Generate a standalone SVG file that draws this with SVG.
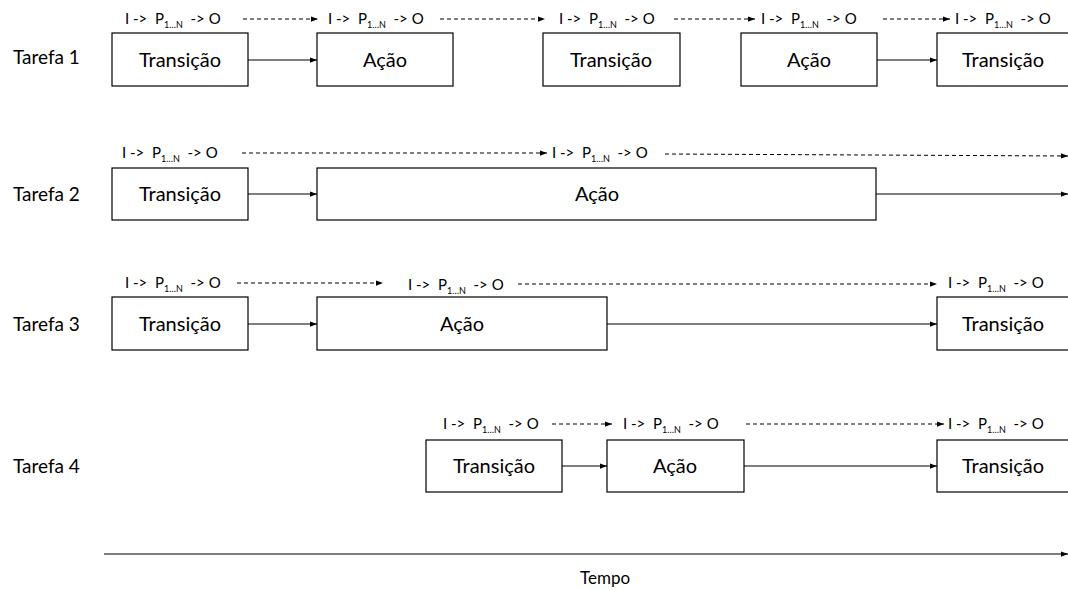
<svg xmlns="http://www.w3.org/2000/svg" width="1068" height="590" viewBox="0 0 1068 590">
<style>
text{font-family:Lato,"Open Sans","Liberation Sans",sans-serif;fill:#000}
.box{fill:#fff;stroke:#000;stroke-width:1.2}
.bl{font-size:20px;text-anchor:middle}
.tl{font-size:19px}
.io{font-size:15px}
.sub{font-size:9px}
.solid{stroke:#000;stroke-width:1.2;fill:none}
.dash{stroke:#000;stroke-width:1;stroke-dasharray:4 3;fill:none}
</style>
<defs>
<marker id="ah" viewBox="0 0 8 6" refX="8" refY="3" markerWidth="7" markerHeight="5.5" orient="auto" markerUnits="userSpaceOnUse"><path d="M0,0 L8,3 L0,6 z" fill="#000"/></marker>
</defs>
<g id="labels">
<text class="tl" x="13" y="64">Tarefa 1</text>
<text class="tl" x="13" y="201">Tarefa 2</text>
<text class="tl" x="13" y="331">Tarefa 3</text>
<text class="tl" x="13" y="473">Tarefa 4</text>
</g>
<g id="io-labels">
<text class="io" x="125" y="24">I -&gt;&#160; P<tspan class="sub" dy="4">1…N</tspan><tspan dy="-4">&#160;&#160;-&gt; O</tspan></text>
<text class="io" x="328" y="24">I -&gt;&#160; P<tspan class="sub" dy="4">1…N</tspan><tspan dy="-4">&#160;&#160;-&gt; O</tspan></text>
<text class="io" x="559" y="24">I -&gt;&#160; P<tspan class="sub" dy="4">1…N</tspan><tspan dy="-4">&#160;&#160;-&gt; O</tspan></text>
<text class="io" x="761" y="24">I -&gt;&#160; P<tspan class="sub" dy="4">1…N</tspan><tspan dy="-4">&#160;&#160;-&gt; O</tspan></text>
<text class="io" x="955" y="24">I -&gt;&#160; P<tspan class="sub" dy="4">1…N</tspan><tspan dy="-4">&#160;&#160;-&gt; O</tspan></text>
<text class="io" x="122" y="158">I -&gt;&#160; P<tspan class="sub" dy="4">1…N</tspan><tspan dy="-4">&#160;&#160;-&gt; O</tspan></text>
<text class="io" x="552" y="158">I -&gt;&#160; P<tspan class="sub" dy="4">1…N</tspan><tspan dy="-4">&#160;&#160;-&gt; O</tspan></text>
<text class="io" x="125" y="288">I -&gt;&#160; P<tspan class="sub" dy="4">1…N</tspan><tspan dy="-4">&#160;&#160;-&gt; O</tspan></text>
<text class="io" x="408" y="290">I -&gt;&#160; P<tspan class="sub" dy="4">1…N</tspan><tspan dy="-4">&#160;&#160;-&gt; O</tspan></text>
<text class="io" x="948" y="288">I -&gt;&#160; P<tspan class="sub" dy="4">1…N</tspan><tspan dy="-4">&#160;&#160;-&gt; O</tspan></text>
<text class="io" x="443" y="429">I -&gt;&#160; P<tspan class="sub" dy="4">1…N</tspan><tspan dy="-4">&#160;&#160;-&gt; O</tspan></text>
<text class="io" x="623" y="429">I -&gt;&#160; P<tspan class="sub" dy="4">1…N</tspan><tspan dy="-4">&#160;&#160;-&gt; O</tspan></text>
<text class="io" x="948" y="429">I -&gt;&#160; P<tspan class="sub" dy="4">1…N</tspan><tspan dy="-4">&#160;&#160;-&gt; O</tspan></text>
</g>
<g id="t1-transicao1"><rect class="box" x="112" y="33" width="136" height="53"/><text class="bl" x="180" y="67">Transição</text></g>
<g id="t1-acao1"><rect class="box" x="317" y="33" width="136" height="53"/><text class="bl" x="385" y="67">Ação</text></g>
<g id="t1-transicao2"><rect class="box" x="543" y="33" width="137" height="53"/><text class="bl" x="611" y="67">Transição</text></g>
<g id="t1-acao2"><rect class="box" x="741" y="33" width="136" height="53"/><text class="bl" x="809" y="67">Ação</text></g>
<g id="t1-transicao3"><rect class="box" x="937" y="33" width="136" height="53"/><text class="bl" x="1003" y="67">Transição</text></g>
<g id="t2-transicao1"><rect class="box" x="112" y="168" width="136" height="52"/><text class="bl" x="180" y="201">Transição</text></g>
<g id="t2-acao1"><rect class="box" x="317" y="168" width="559" height="52"/><text class="bl" x="597" y="201">Ação</text></g>
<g id="t3-transicao1"><rect class="box" x="112" y="297" width="136" height="53"/><text class="bl" x="180" y="331">Transição</text></g>
<g id="t3-acao1"><rect class="box" x="317" y="297" width="290" height="53"/><text class="bl" x="462" y="331">Ação</text></g>
<g id="t3-transicao2"><rect class="box" x="937" y="297" width="136" height="53"/><text class="bl" x="1003" y="331">Transição</text></g>
<g id="t4-transicao1"><rect class="box" x="426" y="440" width="136" height="52"/><text class="bl" x="494" y="473">Transição</text></g>
<g id="t4-acao1"><rect class="box" x="607" y="440" width="137" height="52"/><text class="bl" x="675" y="473">Ação</text></g>
<g id="t4-transicao2"><rect class="box" x="937" y="440" width="136" height="52"/><text class="bl" x="1003" y="473">Transição</text></g>
<g id="connectors">
<line class="solid" x1="248" y1="60" x2="317" y2="60" marker-end="url(#ah)"/>
<line class="solid" x1="877" y1="60" x2="937" y2="60" marker-end="url(#ah)"/>
<line class="dash" x1="243" y1="19" x2="318" y2="19" marker-end="url(#ah)"/>
<line class="dash" x1="440" y1="19" x2="545" y2="19" marker-end="url(#ah)"/>
<line class="dash" x1="674" y1="19" x2="755" y2="19" marker-end="url(#ah)"/>
<line class="dash" x1="883" y1="19" x2="950" y2="19" marker-end="url(#ah)"/>
<line class="solid" x1="248" y1="194" x2="317" y2="194" marker-end="url(#ah)"/>
<line class="solid" x1="876" y1="194" x2="1068" y2="194" marker-end="url(#ah)"/>
<line class="dash" x1="242" y1="153" x2="547" y2="153" marker-end="url(#ah)"/>
<line class="dash" x1="665" y1="154" x2="1068" y2="156" marker-end="url(#ah)"/>
<line class="solid" x1="248" y1="324" x2="317" y2="324" marker-end="url(#ah)"/>
<line class="solid" x1="607" y1="324" x2="937" y2="324" marker-end="url(#ah)"/>
<line class="dash" x1="237" y1="283" x2="383" y2="283" marker-end="url(#ah)"/>
<line class="dash" x1="518" y1="284" x2="937" y2="284" marker-end="url(#ah)"/>
<line class="solid" x1="562" y1="466" x2="607" y2="466" marker-end="url(#ah)"/>
<line class="solid" x1="744" y1="466" x2="937" y2="466" marker-end="url(#ah)"/>
<line class="dash" x1="552" y1="424" x2="612" y2="424" marker-end="url(#ah)"/>
<line class="dash" x1="746" y1="424" x2="944" y2="424" marker-end="url(#ah)"/>
<line class="solid" x1="104" y1="554" x2="1068" y2="554" marker-end="url(#ah)"/>
</g>
<text x="605" y="584" style="font-size:17px;text-anchor:middle">Tempo</text>
</svg>
